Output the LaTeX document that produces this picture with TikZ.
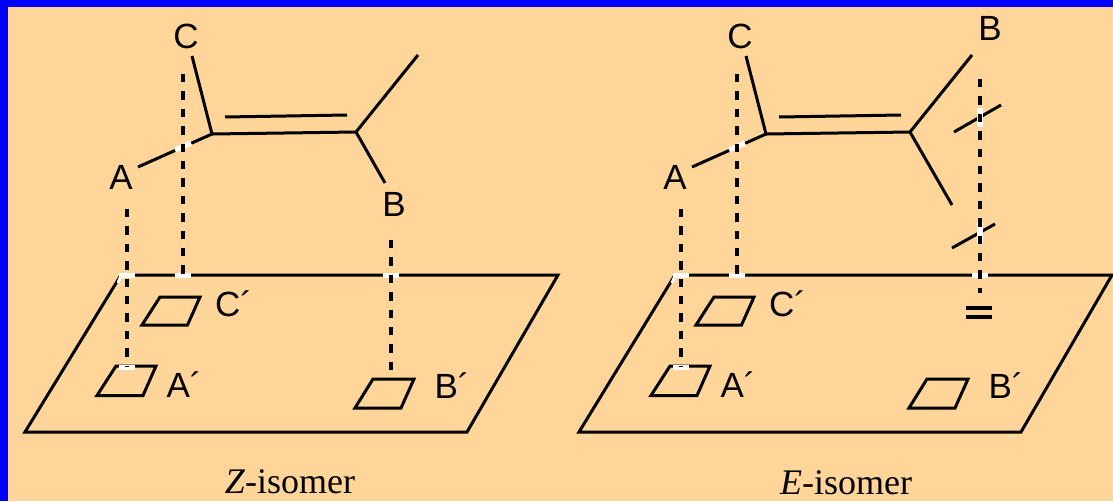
\documentclass[tikz,border=0pt]{standalone}
\usepackage{fontspec}
\setmainfont{Liberation Serif}
\setsansfont{Liberation Sans}
\definecolor{panel}{RGB}{255,213,153}
\definecolor{frame}{RGB}{0,0,255}
\newcommand{\sharedparts}{%
  % ---- named points
  \coordinate (cl) at (212,134);
  \coordinate (cr) at (356,132);
  \coordinate (il) at (225,117);
  \coordinate (ir) at (347,115);
  \coordinate (endC) at (192,56);
  \coordinate (endA) at (138,167);
  \coordinate (pa) at (25,432);
  \coordinate (pb) at (467,432);
  \coordinate (pc) at (558,275);
  \coordinate (pd) at (121,275);
  \coordinate (crossL) at (175,150);
  \coordinate (crossR) at (191,143);
  \coordinate (dCt) at (183,74);
  \coordinate (dCb) at (183,275);
  \coordinate (dAt) at (127,209);
  \coordinate (dAb) at (127,367);
  \coordinate (wAl) at (119,275);
  \coordinate (wAr) at (135,275);
  \coordinate (wCl) at (175,275);
  \coordinate (wCr) at (191,275);
  \coordinate (wBl) at (383,275);
  \coordinate (wBr) at (399,275);
  \coordinate (wQl) at (119,367);
  \coordinate (wQr) at (135,367);
  \coordinate (wSa) at (121,276);
  \coordinate (wSb) at (118,283);
  % ---- plane
  \draw[bond,line join=miter] (pa) -- (pb) -- (pc) -- (pd) -- cycle;
  % ---- small squares
  \draw[bond] (160,297) coordinate (sc1) -- (200,297) coordinate (sc2) -- (187.5,325) coordinate (sc3) -- (142,325) coordinate (sc4) -- cycle;
  \draw[bond] (116,366) coordinate (sa1) -- (156,366) coordinate (sa2) -- (143,395.5) coordinate (sa3) -- (97,395.5) coordinate (sa4) -- cycle;
  \draw[bond] (373,379) coordinate (sb1) -- (414,379) coordinate (sb2) -- (401,408) coordinate (sb3) -- (355,408) coordinate (sb4) -- cycle;
  % ---- molecule, left part
  \draw[bond] (endC) -- (cl) -- (endA);
  \draw[bond] (cl) -- (cr);
  \draw[bond] (il) -- (ir);
  % ---- white gaps
  \draw[gap] (crossL) -- (crossR);
  \draw[gap] (wAl) -- (wAr);
  \draw[gap] (wCl) -- (wCr);
  \draw[gap] (wQl) -- (wQr);
  \draw[gap,line width=3pt] (wSa) -- (wSb);
  % ---- projection lines
  \draw[proj] (dCt) -- (dCb);
  \draw[proj] (dAt) -- (dAb);
  % ---- labels
  \node[atomlabel] (lC) at (186,36) {C};
  \node[atomlabel] (lA) at (121,177) {A};
  \node[atomlabel] (lCp) at (233.5,304) {C´};
  \node[atomlabel] (lAp) at (184,385) {A´};
  \node[atomlabel] (lBp) at (452,386) {B´};
}
\tikzset{
  bond/.style={draw=black,line width=3pt,line cap=butt,line join=miter},
  gap/.style={draw=white,line width=5pt},
  proj/.style={draw=black,line width=4.2pt,dash pattern=on 8.3pt off 9.1pt},
  atomlabel/.style={inner sep=0pt,font=\sffamily\fontsize{35}{35}\selectfont},
  caption/.style={inner sep=0pt,font=\rmfamily\fontsize{36}{36}\selectfont}
}
\begin{document}
\begin{tikzpicture}[x=1pt,y=-1pt]
\useasboundingbox (0,0) rectangle (1113,501);
\fill[frame] (0,0) rectangle (1113,501);
\fill[panel] (8,7) rectangle (1113,501);

% ============ Z isomer
\begin{scope}[name prefix=z-]
  \sharedparts
  \coordinate (me) at (418,55);
  \coordinate (endB) at (385,183);
  \coordinate (dBt) at (391,240);
  \coordinate (dBb) at (391,373);
  \draw[bond] (me) -- (cr) -- (endB);
  \draw[gap] (wBl) -- (wBr);
  \draw[proj] (dBt) -- (dBb);
  \node[atomlabel] (lB) at (394,204) {B};
  \node[caption] (cap) at (290,481.5) {\textit{Z}-isomer};
\end{scope}

% ============ E isomer
\begin{scope}[shift={(554,0)},name prefix=e-]
  \sharedparts
  \coordinate (up) at (418,55);
  \coordinate (down) at (398,205);
  \coordinate (t1a) at (400,132);
  \coordinate (t1b) at (447,105);
  \coordinate (t2a) at (398,248);
  \coordinate (t2b) at (441,224);
  \coordinate (g1a) at (426,108);
  \coordinate (g1b) at (426,127);
  \coordinate (g2a) at (426,222);
  \coordinate (g2b) at (426,243);
  \coordinate (dBt) at (426,79);
  \coordinate (dBb) at (426,293);
  \coordinate (wBl) at (418,275);
  \coordinate (wBr) at (434,275);
  \coordinate (eqAl) at (412,308);
  \coordinate (eqAr) at (438,308);
  \coordinate (eqBl) at (412,317);
  \coordinate (eqBr) at (438,317);
  \draw[bond] (up) -- (cr) -- (down);
  \draw[bond] (t1a) -- (t1b);
  \draw[bond] (t2a) -- (t2b);
  \draw[gap,line width=6pt] (g1a) -- (g1b);
  \draw[gap,line width=6pt] (g2a) -- (g2b);
  \draw[gap] (wBl) -- (wBr);
  \draw[proj] (dBt) -- (dBb);
  \draw[bond,line width=3.6pt] (eqAl) -- (eqAr);
  \draw[bond,line width=3.6pt] (eqBl) -- (eqBr);
  \node[atomlabel] (lB) at (436,28) {B};
  \node[caption] (cap) at (292,482.5) {\textit{E}-isomer};
\end{scope}
\end{tikzpicture}
\end{document}
